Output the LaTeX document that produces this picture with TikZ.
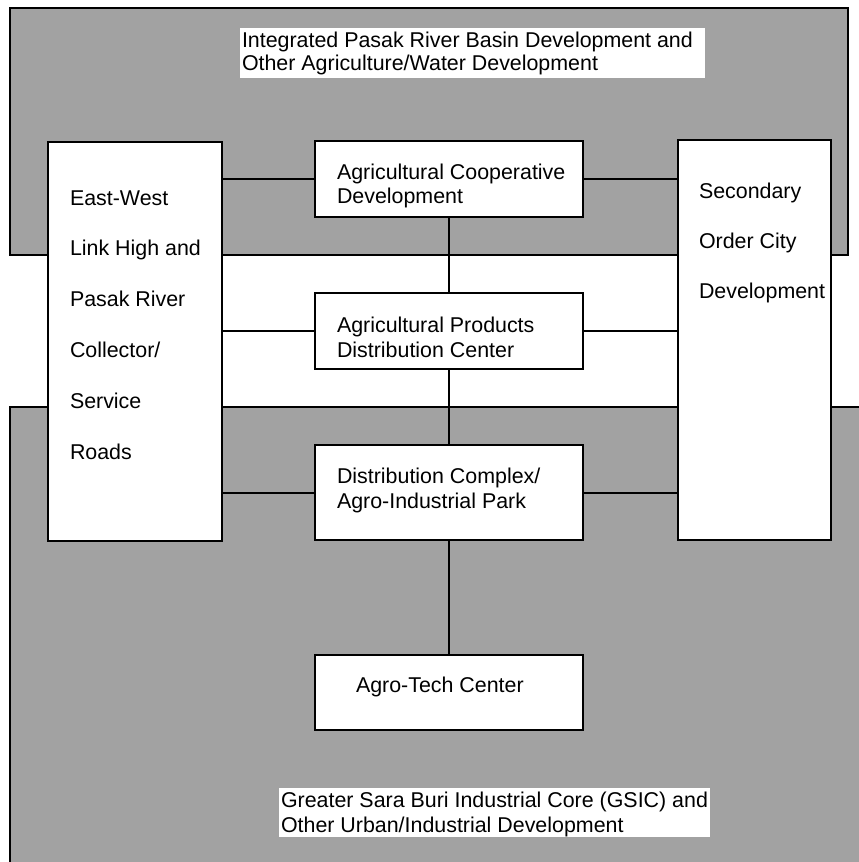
\documentclass[tikz,border=0pt]{standalone}
\usepackage{fontspec}
\setmainfont{Liberation Sans}
\definecolor{zonegray}{RGB}{162,162,162}
% a stack of left-aligned lines whose baseline is the first line
\newcommand{\linestack}[2]{{\fontsize{21.4}{#1}\selectfont\begin{tabular}[t]{@{}l@{}}#2\end{tabular}}}
\begin{document}
\begin{tikzpicture}[x=1pt,y=-1pt,
  zoneedge/.style={line width=2pt},
  boxed/.style={draw, line width=2.6pt, fill=white, inner sep=0pt, outer sep=0pt},
  plate/.style={fill=white, inner sep=0pt, outer sep=0pt},
  txt/.style={anchor=base west, inner sep=0pt, outer sep=0pt},
  link/.style={line width=2pt}]
\useasboundingbox (0,0) rectangle (859,862);

% shaded development zones
\fill[zonegray] (10,8) rectangle (848,255);
\fill[zonegray] (10,407) rectangle (859,862);
\draw[zoneedge] (10,8) rectangle (848,255);
\draw[zoneedge] (10,862) -- (10,407) -- (859,407);

% boxes
\node[boxed, minimum width=174pt, minimum height=399pt] (roads) at (135,341.5) {};
\node[boxed, minimum width=153pt, minimum height=400pt] (city) at (754.5,340) {};
\node[boxed, minimum width=268pt, minimum height=76pt] (coop) at (449,179) {};
\node[boxed, minimum width=268pt, minimum height=76pt] (prod) at (449,331) {};
\node[boxed, minimum width=268pt, minimum height=95pt] (dist) at (449,492.5) {};
\node[boxed, minimum width=268pt, minimum height=75pt] (tech) at (449,692.5) {};

% connectors
\draw[link] (coop.west) -- (coop.west -| roads.east);
\draw[link] (coop.east) -- (coop.east -| city.west);
\draw[link] (prod.west) -- (prod.west -| roads.east);
\draw[link] (prod.east) -- (prod.east -| city.west);
\draw[link] (dist.west) -- (dist.west -| roads.east);
\draw[link] (dist.east) -- (dist.east -| city.west);
\draw[link] (coop.south) -- (prod.north);
\draw[link] (prod.south) -- (dist.north);
\draw[link] (dist.south) -- (tech.north);

% box texts
\node[txt] (roadsT) at (70,205) {\linestack{50.8}{East-West\\Link High and\\Pasak River\\Collector/\\Service\\Roads}};
\node[txt] (cityT) at (699,198) {\linestack{50}{Secondary\\Order City\\Development}};
\node[txt] (coopT) at (337,179) {\linestack{24}{Agricultural Cooperative\\Development}};
\node[txt] (prodT) at (337,332) {\linestack{25}{Agricultural Products\\Distribution Center}};
\node[txt] (distT) at (337,483) {\linestack{25}{Distribution Complex/\\Agro-Industrial Park}};
\node[txt] (techT) at (356,692) {\linestack{25}{Agro-Tech Center}};

% zone labels on white plates
\node[plate, minimum width=465pt, minimum height=50pt] (topplate) at (472.5,53) {};
\node[txt] (topT) at (242,47) {\linestack{23}{Integrated Pasak River Basin Development and\\Other Agriculture/Water Development}};
\node[plate, minimum width=431pt, minimum height=49pt] (botplate) at (494.5,812.5) {};
\node[txt] (botT) at (281,807) {\linestack{25}{Greater Sara Buri Industrial Core (GSIC) and\\Other Urban/Industrial Development}};
\end{tikzpicture}
\end{document}
